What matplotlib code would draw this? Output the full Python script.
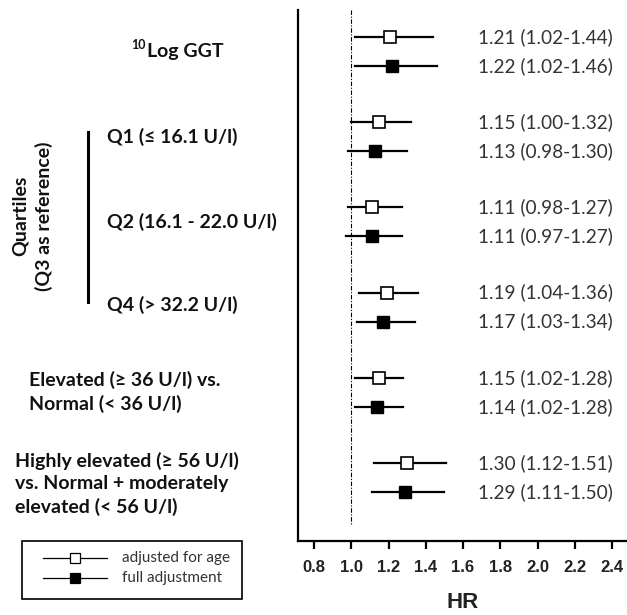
import matplotlib
matplotlib.use("Agg")
import matplotlib.pyplot as plt
from matplotlib.lines import Line2D
from matplotlib.patches import Rectangle

W, H = 627, 615
fig = plt.figure(figsize=(W/100, H/100), dpi=100)

# ---------------- data ----------------
hr_age = [1.21, 1.15, 1.11, 1.19, 1.15, 1.30]
lo_age = [1.02, 1.00, 0.98, 1.04, 1.02, 1.12]
hi_age = [1.44, 1.32, 1.27, 1.36, 1.28, 1.51]
hr_full = [1.22, 1.13, 1.11, 1.17, 1.14, 1.29]
lo_full = [1.02, 0.98, 0.97, 1.03, 1.02, 1.11]
hi_full = [1.46, 1.30, 1.27, 1.34, 1.28, 1.50]
xticks = [0.8, 1.0, 1.2, 1.4, 1.6, 1.8, 2.0, 2.2, 2.4]

def px(x, y):
    return x / W, 1 - y / H

ax_l, ax_r, ax_t, ax_b = 298, 627, 10, 541
ax = fig.add_axes([ax_l / W, 1 - ax_b / H, (ax_r - ax_l) / W, (ax_b - ax_t) / H])

step = 85.2
y0 = 37
off = 29 / step
ax.set_xlim(0.8 - 16 / 186.25, 0.8 + (ax_r - 314) / 186.25)
ax.set_ylim((ax_b - y0) / step, (ax_t - y0) / step)

ax.plot([1.0, 1.0], [(ax_t - y0) / step, (525 - y0) / step], color="black",
        lw=0.8, ls=(0, (4, 1.5, 1, 1.5)))

for i in range(len(hr_age)):
    ya = i
    yf = i + off
    ax.plot([lo_age[i], hi_age[i]], [ya, ya], color="black", lw=1.6, zorder=2)
    ax.plot([hr_age[i]], [ya], marker="s", ms=9, mfc="white", mec="black", mew=1.2, zorder=3)
    ax.plot([lo_full[i], hi_full[i]], [yf, yf], color="black", lw=1.6, zorder=2)
    ax.plot([hr_full[i]], [yf], marker="s", ms=9, mfc="black", mec="black", zorder=3)
    ax.text(1.68, ya, f"{hr_age[i]:.2f} ({lo_age[i]:.2f}-{hi_age[i]:.2f})",
            fontsize=13.7, family="Lato", va="center", ha="left", color="#333333")
    ax.text(1.68, yf, f"{hr_full[i]:.2f} ({lo_full[i]:.2f}-{hi_full[i]:.2f})",
            fontsize=13.7, family="Lato", va="center", ha="left", color="#333333")

for s in ["top", "right"]:
    ax.spines[s].set_visible(False)
for s in ["left", "bottom"]:
    ax.spines[s].set_linewidth(1.6)
ax.set_yticks([])
ax.set_xticks(xticks)
ax.set_xticklabels([f"{t:.1f}" for t in xticks], fontsize=12, family="Liberation Sans",
                   fontweight="bold", color="#222222")
ax.tick_params(axis="x", direction="out", length=6, width=1.6, pad=8)
ax.set_xlabel("HR", fontsize=16, family="Liberation Sans", fontweight="bold", labelpad=12,
              color="#222222")

# ---------------- left labels ----------------
lab = dict(fontsize=14, family="Lato", fontweight="bold", color="#111111")
fig.text(*px(131, 45), "10", va="center", ha="left", fontsize=9, family="Lato",
         fontweight="bold", color="#111111")
fig.text(*px(147, 51), "Log GGT", va="center", ha="left", **lab)
fig.text(*px(107, 137), "Q1 (≤ 16.1 U/l)", va="center", ha="left", **lab)
fig.text(*px(107, 222), "Q2 (16.1 - 22.0 U/l)", va="center", ha="left", **lab)
fig.text(*px(107, 305), "Q4 (> 32.2 U/l)", va="center", ha="left", **lab)
fig.text(*px(32, 216), "Quartiles\n(Q3 as reference)", va="center", ha="center",
         rotation=90, linespacing=1.4, **lab)
fig.add_artist(Line2D([88 / W, 88 / W], [1 - 132 / H, 1 - 302 / H], color="black", lw=2.2))
fig.text(*px(29, 392), "Elevated (≥ 36 U/l) vs.\nNormal (< 36 U/l)", va="center", ha="left",
         linespacing=1.4, **lab)
fig.text(*px(15, 484), "Highly elevated (≥ 56 U/l)\nvs. Normal + moderately\nelevated (< 56 U/l)",
         va="center", ha="left", linespacing=1.4, **lab)

# ---------------- legend ----------------
fig.add_artist(Rectangle(px(22, 599), 220 / W, 58 / H, fill=False, ec="black", lw=1.2))
for yy, fc, txt in [(558, "white", "adjusted for age"), (578, "black", "full adjustment")]:
    fig.add_artist(Line2D([43 / W, 107 / W], [1 - yy / H] * 2, color="black", lw=0.9))
    fig.add_artist(Line2D([75 / W], [1 - yy / H], marker="s", ms=7, mfc=fc, mec="black", mew=0.9))
    fig.text(*px(122, yy), txt, fontsize=11, family="Lato", va="center", ha="left", color="#333333")

fig.savefig("out.png", dpi=100)
